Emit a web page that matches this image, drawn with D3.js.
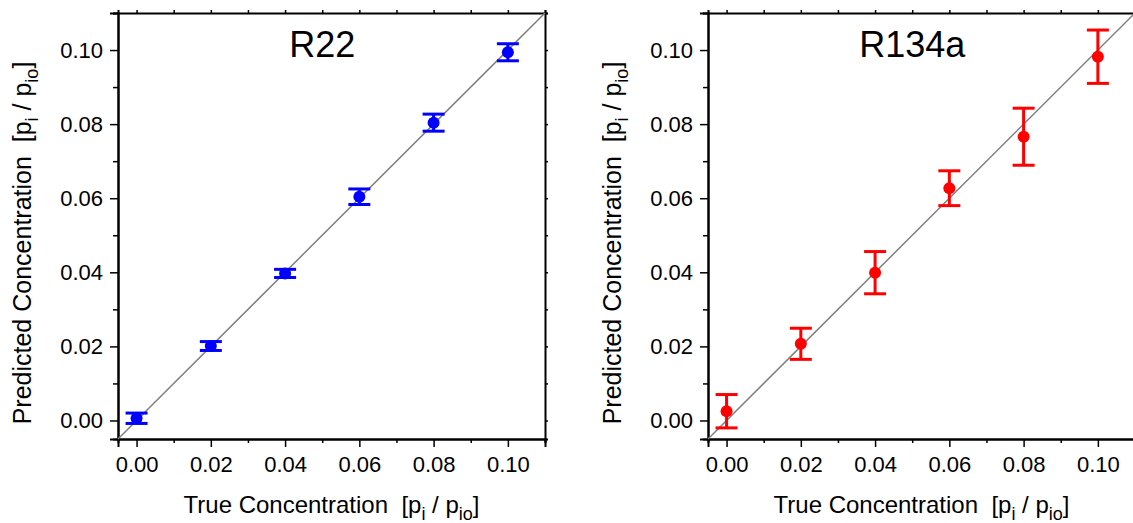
<!DOCTYPE html>
<html>
<head>
<meta charset="utf-8">
<script src="https://cdn.jsdelivr.net/npm/d3@7"></script>
<style>
  body { margin: 0; background: #fff; }
  text { font-family: "Liberation Sans", Arial, sans-serif; fill: #000; }
</style>
</head>
<body>
<div id="chart"></div>
<script>
// values
const trueConc = [0.00, 0.02, 0.04, 0.06, 0.08, 0.10];
const r22Pred = [0.0006, 0.0201, 0.0397, 0.0604, 0.0804, 0.0994];
const r22Err = [0.0014, 0.0012, 0.0011, 0.0021, 0.0023, 0.0023];
const r134aPred = [0.0025, 0.0207, 0.0399, 0.0627, 0.0766, 0.0982];
const r134aErr = [0.0045, 0.0042, 0.0057, 0.0047, 0.0077, 0.0072];

const majorTicks = [0.00, 0.02, 0.04, 0.06, 0.08, 0.10];
const minorTicks = [0.01, 0.03, 0.05, 0.07, 0.09, 0.11];
const axisDomain = [-0.005, 0.11];

const W = 1133, H = 523;

const svg = d3.select("#chart")
    .append("svg")
    .attr("width", W)
    .attr("height", H);

createPanel({ left: 118, top: 13, width: 427, height: 426 }, "R22", r22Pred, r22Err, "#0000ff");
createPanel({ left: 708, top: 13, width: 427, height: 426 }, "R134a", r134aPred, r134aErr, "#ff0000");

function createPanel(box, title, pred, err, color) {
    const g = svg.append("g")
        .attr("transform", `translate(${box.left},${box.top})`);

    const x = d3.scaleLinear().domain(axisDomain).range([0, box.width]);
    const y = d3.scaleLinear().domain(axisDomain).range([box.height, 0]);

    // bottom axis, major + minor outward
    g.append("g")
        .attr("transform", `translate(0,${box.height})`)
        .call(d3.axisBottom(x).tickValues(majorTicks).tickSize(8).tickPadding(9).tickFormat(d3.format(".2f")))
        .call(a => a.selectAll("text").attr("font-size", 22).attr("font-family", "Liberation Sans, Arial, sans-serif"));
    g.append("g")
        .attr("transform", `translate(0,${box.height})`)
        .call(d3.axisBottom(x).tickValues(minorTicks).tickSize(4).tickFormat(""));

    // left axis
    g.append("g")
        .call(d3.axisLeft(y).tickValues(majorTicks).tickSize(8).tickPadding(7).tickFormat(d3.format(".2f")))
        .call(a => a.selectAll("text").attr("font-size", 22).attr("font-family", "Liberation Sans, Arial, sans-serif"));
    g.append("g")
        .call(d3.axisLeft(y).tickValues(minorTicks).tickSize(5).tickFormat(""));

    // top + right, short ticks, no labels
    g.append("g")
        .call(d3.axisTop(x).tickValues(majorTicks.concat(minorTicks)).tickSize(3).tickFormat(""));
    g.append("g")
        .attr("transform", `translate(${box.width},0)`)
        .call(d3.axisRight(y).tickValues(majorTicks.concat(minorTicks)).tickSize(3).tickFormat(""));

    g.selectAll(".domain").attr("stroke-width", 2);
    g.selectAll(".tick line").attr("stroke-width", 1.5);

    // 1:1 line
    g.append("path")
        .datum(axisDomain)
        .attr("d", d3.line().x(d => x(d)).y(d => y(d)))
        .attr("stroke", "#808080")
        .attr("stroke-width", 1.5)
        .attr("fill", "none");

    const pts = trueConc.map((t, i) => ({ t: t, p: pred[i], e: err[i] }));

    // error bars
    const bars = g.selectAll("g.err")
        .data(pts)
        .join("g")
        .attr("class", "err")
        .attr("stroke", color)
        .attr("stroke-width", 3);
    bars.append("line")
        .attr("x1", d => x(d.t)).attr("x2", d => x(d.t))
        .attr("y1", d => y(d.p - d.e)).attr("y2", d => y(d.p + d.e));
    bars.append("line")
        .attr("x1", d => x(d.t) - 11).attr("x2", d => x(d.t) + 11)
        .attr("y1", d => y(d.p + d.e)).attr("y2", d => y(d.p + d.e));
    bars.append("line")
        .attr("x1", d => x(d.t) - 11).attr("x2", d => x(d.t) + 11)
        .attr("y1", d => y(d.p - d.e)).attr("y2", d => y(d.p - d.e));

    g.selectAll("circle.pt")
        .data(pts)
        .join("circle")
        .attr("class", "pt")
        .attr("cx", d => x(d.t))
        .attr("cy", d => y(d.p))
        .attr("r", 6)
        .attr("fill", color);

    // panel title
    g.append("text")
        .attr("x", x(0.05))
        .attr("y", y(0.098))
        .attr("text-anchor", "middle")
        .attr("font-size", 36)
        .text(title);

    // x title
    const xt = g.append("text")
        .attr("x", box.width / 2)
        .attr("y", box.height + 74)
        .attr("text-anchor", "middle")
        .attr("font-size", 24)
        .style("white-space", "pre");
    addConcLabel(xt, "True Concentration  ");

    // y title
    const yt = g.append("text")
        .attr("transform", `translate(-87,${230}) rotate(-90)`)
        .attr("text-anchor", "middle")
        .attr("font-size", 25)
        .style("white-space", "pre");
    addConcLabel(yt, "Predicted Concentration  ");
}

function addConcLabel(t, lead) {
    t.append("tspan").text(lead + "[p");
    t.append("tspan").attr("font-size", 18).attr("dy", 7).text("i");
    t.append("tspan").attr("dy", -7).text(" / p");
    t.append("tspan").attr("font-size", 18).attr("dy", 7).text("io");
    t.append("tspan").attr("dy", -7).text("]");
}
</script>
</body>
</html>
